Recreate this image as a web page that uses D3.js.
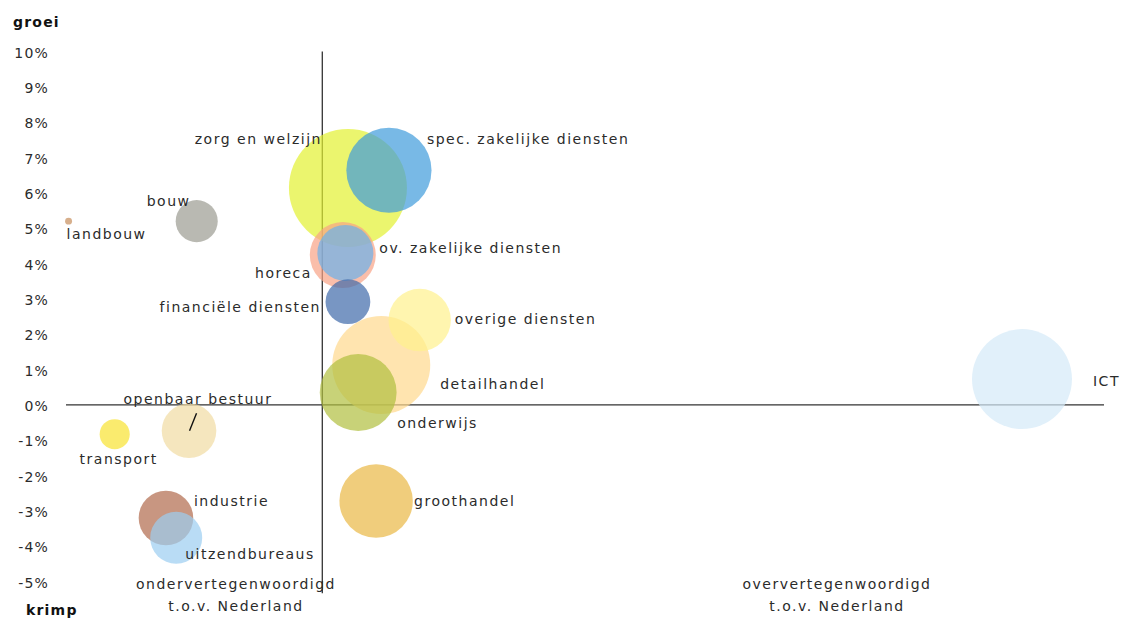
<!DOCTYPE html>
<html>
<head>
<meta charset="utf-8">
<script src="https://cdn.jsdelivr.net/npm/d3@7"></script>
<style>
  html, body { margin: 0; padding: 0; background: #ffffff; }
  svg { display: block; }
  text { font-family: "DejaVu Sans", Verdana, sans-serif; fill: #2b2b2b; }
</style>
</head>
<body>
<svg id="chart" width="1126" height="621"></svg>
<script>
// ---- data ----
const sectors = ["landbouw", "bouw", "zorg en welzijn", "spec. zakelijke diensten", "horeca",
  "ov. zakelijke diensten", "financiële diensten", "overige diensten", "detailhandel",
  "onderwijs", "groothandel", "ICT", "transport", "openbaar bestuur", "industrie", "uitzendbureaus"];
// representation index vs. the Netherlands (1 = equal)
const representation = [0.01, 0.51, 1.10, 1.26, 1.08, 1.09, 1.10, 1.38, 1.23, 1.14, 1.21, 3.73, 0.19, 0.48, 0.39, 0.43];
// growth in %
const growth = [5.2, 5.2, 6.14, 6.64, 4.24, 4.3, 2.92, 2.4, 1.13, 0.35, -2.72, 0.73, -0.83, -0.73, -3.2, -3.76];
// relative size (employment)
const sizeValues = [0.35, 12.7, 100, 52.1, 31.3, 22.5, 14.4, 28, 69, 42.4, 38.7, 71.8, 6.5, 21.4, 21.4, 19.4];
const yTicks = [10, 9, 8, 7, 6, 5, 4, 3, 2, 1, 0, -1, -2, -3, -4, -5];
const yTickLabels = yTicks.map(v => v + "%");

// ---- styles ----
const colors = ["#c68d5b", "#9b9b91", "#e2f130", "#3e9bdb", "#f8a286", "#6bb0ea", "#3e69a9", "#fff18d",
  "#ffd88d", "#b0bf3e", "#eab845", "#d4eaf8", "#f8e230", "#f1dba2", "#b0694c", "#9bcdf1"];
const labelPlacement = {
  "landbouw": [-2, 18, "start"],
  "bouw": [-50, -15, "start"],
  "zorg en welzijn": [-26, -43.5, "end"],
  "spec. zakelijke diensten": [38, -26, "start"],
  "horeca": [-31, 23, "end"],
  "ov. zakelijke diensten": [34, 0, "start"],
  "financiële diensten": [-27, 10.5, "end"],
  "overige diensten": [35, 4, "start"],
  "detailhandel": [59, 24, "start"],
  "onderwijs": [39, 35.5, "start"],
  "groothandel": [38, 5, "start"],
  "ICT": [71, 7, "start"],
  "transport": [4, 30, "middle"],
  "openbaar bestuur": [9, -27, "middle"],
  "industrie": [28, -12, "start"],
  "uitzendbureaus": [9, 21, "start"]
};

const svg = d3.select("#chart");
const x = d3.scaleLinear().domain([0, 4.05]).range([66, 1104]);
const y = d3.scaleLinear().domain([-5, 10]).range([581.6, 51.5]);
const r = d3.scaleSqrt().domain([0, 100]).range([0, 59]);

const data = sectors.map((s, i) => ({
  name: s, rep: representation[i], g: growth[i], size: sizeValues[i], color: colors[i]
}));

// axes lines
svg.append("line")
  .attr("x1", x(0)).attr("x2", x(4.05))
  .attr("y1", y(0)).attr("y2", y(0))
  .attr("stroke", "#333").attr("stroke-width", 1.3);
svg.append("line")
  .attr("x1", x(1)).attr("x2", x(1))
  .attr("y1", y(10)).attr("y2", y(-5.33))
  .attr("stroke", "#333").attr("stroke-width", 1.3);

// y tick labels
svg.append("g").selectAll("text").data(yTicks).join("text")
  .attr("x", 49).attr("y", d => y(d) + 1)
  .attr("dy", "0.36em")
  .attr("text-anchor", "end")
  .attr("font-size", 14).attr("letter-spacing", 1.2)
  .text((d, i) => yTickLabels[i]);

// bubbles (larger first)
const sorted = data.slice().sort((a, b) => b.size - a.size);
svg.append("g").selectAll("circle").data(sorted).join("circle")
  .attr("cx", d => x(d.rep)).attr("cy", d => y(d.g))
  .attr("r", d => r(d.size))
  .attr("fill", d => d.color).attr("fill-opacity", 0.7);

// leader line for openbaar bestuur
const ob = data.find(d => d.name === "openbaar bestuur");
svg.append("line")
  .attr("x1", x(ob.rep) + 7.5).attr("y1", y(ob.g) - 17.5)
  .attr("x2", x(ob.rep) + 0.5).attr("y2", y(ob.g))
  .attr("stroke", "#111").attr("stroke-width", 1.4);

// labels
svg.append("g").selectAll("text").data(data).join("text")
  .attr("x", d => x(d.rep) + labelPlacement[d.name][0])
  .attr("y", d => y(d.g) + labelPlacement[d.name][1])
  .attr("text-anchor", d => labelPlacement[d.name][2])
  .attr("font-size", 14).attr("letter-spacing", 1.5)
  .text(d => d.name);

// axis titles
svg.append("text").attr("x", 13).attr("y", 27)
  .attr("font-size", 14).attr("font-weight", "bold").attr("letter-spacing", 1.2)
  .attr("fill", "#111").style("fill", "#111").text("groei");
svg.append("text").attr("x", 26).attr("y", 615)
  .attr("font-size", 14).attr("font-weight", "bold").attr("letter-spacing", 1.2)
  .style("fill", "#111").text("krimp");

const quad = [
  {cx: 236, lines: ["ondervertegenwoordigd", "t.o.v. Nederland"]},
  {cx: 837, lines: ["oververtegenwoordigd", "t.o.v. Nederland"]}
];
quad.forEach(q => {
  q.lines.forEach((t, i) => {
    svg.append("text").attr("x", q.cx).attr("y", 589 + i * 22)
      .attr("text-anchor", "middle")
      .attr("font-size", 14).attr("letter-spacing", 1.5)
      .text(t);
  });
});
</script>
</body>
</html>
